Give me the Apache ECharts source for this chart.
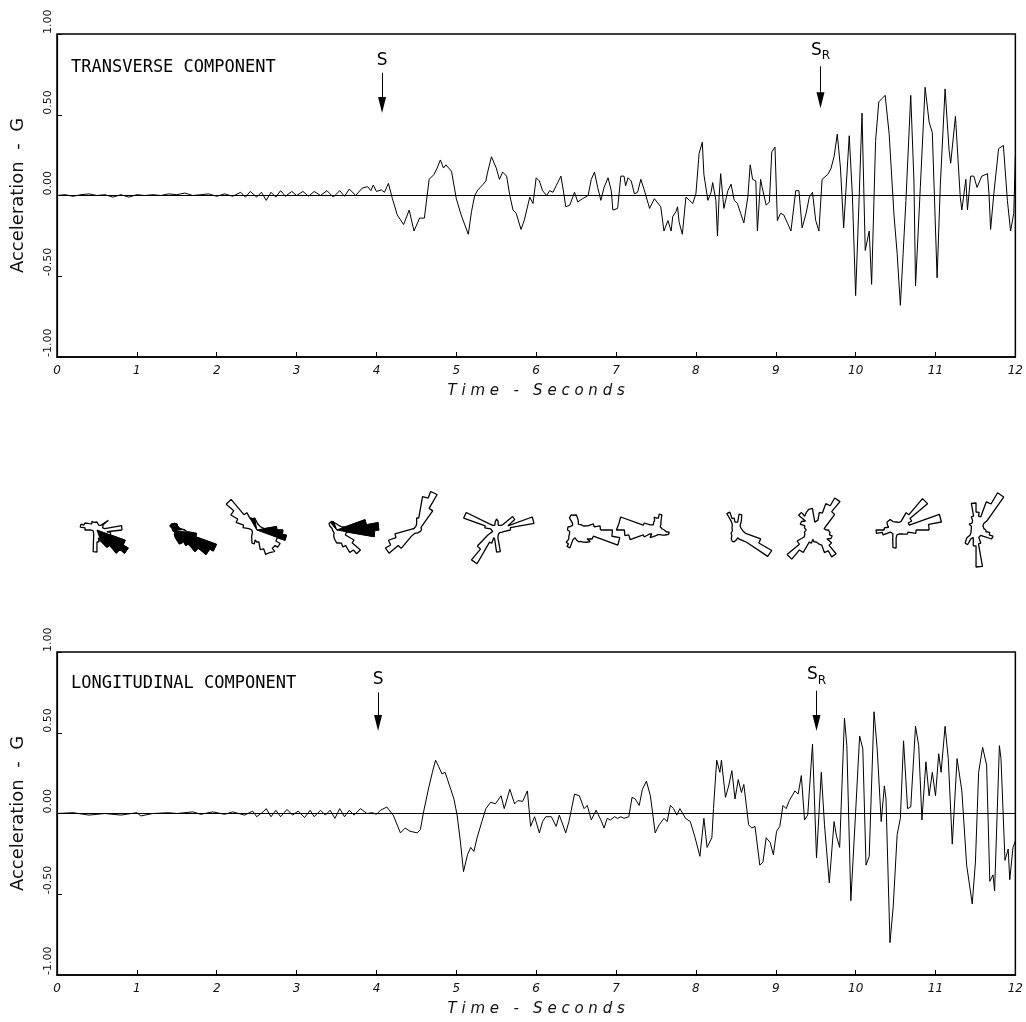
<!DOCTYPE html>
<html>
<head>
<meta charset="utf-8">
<title>Transverse / longitudinal acceleration</title>
<script src="https://cdn.jsdelivr.net/npm/echarts@6/dist/echarts.min.js"></script>
<style>
html, body { margin: 0; padding: 0; background: #fff; }
#main { width: 1026px; height: 1022px; }
</style>
</head>
<body>
<div id="main"></div>
<script>
//----------------------- data ------------------------------
var timeMin = 0, timeMax = 12, timeStep = 1;
var accelMin = -1, accelMax = 1, accelStep = 0.5;

// transverse component  [seconds, G]
var transverse = [
	[0,0],[0.1,0.005],[0.2,-0.005],[0.3,0.005],[0.4,0.01],[0.5,0],[0.6,0.005],[0.7,-0.01],[0.8,0.005],[0.9,-0.01],
	[1.0,0.005],[1.1,0],[1.2,0.005],[1.3,0],[1.4,0.01],[1.5,0.005],[1.6,0.015],[1.7,0],[1.8,0.005],[1.9,0.01],
	[2.0,-0.005],[2.1,0.01],[2.2,-0.005],[2.3,0.02],[2.36,-0.01],[2.42,0.025],[2.5,-0.01],[2.56,0.02],[2.62,-0.03],
	[2.68,0.02],[2.74,-0.01],[2.8,0.03],[2.86,-0.005],[2.94,0.025],[3.0,0],[3.08,0.025],[3.15,-0.005],[3.22,0.025],
	[3.3,0],[3.38,0.03],[3.46,-0.01],[3.54,0.03],[3.6,-0.005],[3.66,0.04],[3.74,0],[3.82,0.045],[3.89,0.055],
	[3.93,0.03],[3.96,0.065],[4.0,0.025],[4.06,0.035],[4.1,0.02],[4.15,0.075],[4.2,-0.02],[4.26,-0.12],[4.34,-0.18],
	[4.41,-0.09],[4.47,-0.22],[4.54,-0.14],[4.6,-0.14],[4.66,0.10],[4.72,0.13],[4.76,0.17],[4.8,0.22],[4.84,0.17],
	[4.87,0.19],[4.94,0.15],[5.0,-0.02],[5.06,-0.12],[5.15,-0.24],[5.19,-0.10],[5.23,0.0],[5.27,0.035],[5.33,0.066],
	[5.37,0.09],[5.39,0.14],[5.44,0.24],[5.5,0.17],[5.54,0.10],[5.58,0.145],[5.63,0.12],[5.67,0],[5.71,-0.09],
	[5.75,-0.11],[5.81,-0.21],[5.85,-0.155],[5.92,-0.01],[5.96,-0.05],[6.0,0.11],[6.04,0.09],[6.08,0.03],[6.13,0],
	[6.17,0.03],[6.21,0.02],[6.25,0.06],[6.31,0.12],[6.35,0],[6.37,-0.07],[6.42,-0.06],[6.48,0.02],[6.52,-0.04],
	[6.58,-0.02],[6.65,0],[6.69,0.10],[6.73,0.145],[6.77,0.05],[6.81,-0.03],[6.85,0.05],[6.9,0.11],[6.94,0.03],
	[6.96,-0.09],[7.02,-0.08],[7.06,0.12],[7.1,0.12],[7.12,0.06],[7.15,0.11],[7.19,0.09],[7.23,0.01],[7.27,0.02],
	[7.31,0.10],[7.35,0.04],[7.42,-0.08],[7.48,-0.02],[7.5,-0.01],[7.56,-0.07],[7.6,-0.22],[7.65,-0.155],[7.69,-0.22],
	[7.71,-0.13],[7.75,-0.10],[7.77,-0.07],[7.79,-0.165],[7.83,-0.24],[7.85,-0.25],[7.875,-0.01],[7.92,-0.03],
	[7.96,-0.05],[8.0,0.01],[8.04,0.26],[8.08,0.33],[8.1,0.13],[8.15,-0.03],[8.19,0.02],[8.21,0.08],[8.25,-0.03],
	[8.27,-0.25],[8.29,-0.01],[8.31,0.135],[8.35,-0.08],[8.4,0.03],[8.44,0.07],[8.48,-0.03],[8.52,-0.05],[8.56,-0.11],
	[8.6,-0.17],[8.65,-0.01],[8.68,0.19],[8.71,0.10],[8.75,0.09],[8.77,-0.22],[8.81,0.10],[8.83,0.05],[8.88,-0.06],
	[8.92,-0.04],[8.95,0.27],[8.99,0.30],[9.02,-0.155],[9.06,-0.11],[9.1,-0.12],[9.15,-0.175],[9.19,-0.22],[9.25,0.03],
	[9.29,0.03],[9.33,-0.2],[9.38,-0.11],[9.42,-0.01],[9.46,0.02],[9.5,-0.155],[9.54,-0.22],[9.58,0.10],[9.65,0.13],
	[9.69,0.165],[9.73,0.24],[9.77,0.38],[9.81,0.17],[9.85,-0.2],[9.92,0.37],[9.96,-0.01],[10.0,-0.62],[10.04,-0.07],
	[10.08,0.51],[10.12,-0.34],[10.17,-0.22],[10.2,-0.55],[10.25,0.34],[10.29,0.58],[10.33,0.60],[10.37,0.62],
	[10.42,0.38],[10.48,-0.12],[10.52,-0.36],[10.56,-0.68],[10.63,-0.03],[10.69,0.62],[10.73,0.09],[10.75,-0.56],
	[10.81,0.05],[10.87,0.67],[10.92,0.455],[10.96,0.39],[11.02,-0.51],[11.06,0.06],[11.12,0.66],[11.17,0.28],
	[11.19,0.2],[11.25,0.49],[11.31,-0.01],[11.33,-0.09],[11.38,0.10],[11.4,-0.09],[11.44,0.12],[11.48,0.12],
	[11.52,0.05],[11.58,0.12],[11.65,0.135],[11.67,0.01],[11.69,-0.21],[11.73,0.01],[11.79,0.29],[11.85,0.31],
	[11.9,-0.03],[11.94,-0.22],[11.98,-0.11],[12.0,0.24]
];

// longitudinal component  [seconds, G]
var longitudinal = [
	[0,0],[0.2,0.005],[0.4,-0.01],[0.6,0],[0.8,-0.01],[1.0,0.005],[1.05,-0.015],[1.2,0],[1.4,0.005],[1.5,0],
	[1.7,0.01],[1.8,-0.005],[1.95,0.01],[2.1,-0.005],[2.2,0.01],[2.35,-0.01],[2.45,0.015],[2.5,-0.02],[2.58,0.01],
	[2.62,0.03],[2.68,-0.02],[2.74,0.02],[2.8,-0.02],[2.88,0.025],[2.95,-0.01],[3.02,0.015],[3.1,-0.025],[3.17,0.02],
	[3.22,-0.02],[3.3,0.02],[3.36,-0.01],[3.42,0.02],[3.48,-0.03],[3.54,0.03],[3.6,-0.02],[3.66,0.02],[3.72,-0.01],
	[3.8,0.03],[3.88,0],[3.95,0.005],[4.0,-0.005],[4.05,0.02],[4.13,0.04],[4.21,-0.01],[4.3,-0.12],[4.36,-0.09],
	[4.42,-0.11],[4.51,-0.12],[4.55,-0.10],[4.59,0.01],[4.65,0.15],[4.7,0.255],[4.74,0.33],[4.78,0.29],[4.82,0.245],
	[4.86,0.255],[4.93,0.15],[4.97,0.09],[5.01,-0.01],[5.05,-0.17],[5.09,-0.36],[5.14,-0.255],[5.18,-0.21],
	[5.22,-0.235],[5.26,-0.15],[5.32,-0.05],[5.37,0.03],[5.43,0.07],[5.49,0.06],[5.56,0.11],[5.6,0.03],[5.67,0.15],
	[5.73,0.06],[5.77,0.08],[5.83,0.075],[5.89,0.14],[5.93,-0.08],[5.98,-0.02],[6.04,-0.12],[6.08,-0.05],[6.12,-0.02],
	[6.19,-0.02],[6.25,-0.08],[6.29,-0.01],[6.37,-0.12],[6.41,-0.05],[6.48,0.12],[6.54,0.11],[6.6,0.03],[6.64,0.05],
	[6.69,-0.04],[6.75,0.02],[6.81,-0.04],[6.85,-0.09],[6.89,-0.03],[6.93,-0.04],[6.98,-0.02],[7.02,-0.03],[7.06,-0.02],
	[7.1,-0.03],[7.16,-0.02],[7.2,0.10],[7.24,0.09],[7.29,0.05],[7.33,0.15],[7.38,0.20],[7.43,0.11],[7.49,-0.12],
	[7.54,-0.07],[7.6,-0.03],[7.64,-0.05],[7.68,0.05],[7.72,0.03],[7.76,-0.01],[7.8,0.03],[7.87,-0.03],[7.93,-0.05],
	[7.99,-0.15],[8.05,-0.265],[8.1,-0.03],[8.14,-0.21],[8.2,-0.15],[8.22,0.03],[8.26,0.33],[8.3,0.255],[8.32,0.33],
	[8.37,0.10],[8.41,0.17],[8.45,0.265],[8.49,0.09],[8.53,0.21],[8.57,0.13],[8.6,0.18],[8.66,-0.07],[8.7,-0.09],
	[8.74,-0.08],[8.8,-0.32],[8.84,-0.30],[8.88,-0.15],[8.93,-0.18],[8.97,-0.255],[9.01,-0.11],[9.05,-0.08],[9.09,0.05],
	[9.13,0.03],[9.17,0.08],[9.24,0.14],[9.28,0.12],[9.32,0.235],[9.36,-0.04],[9.4,-0.01],[9.46,0.43],[9.51,-0.275],
	[9.57,0.255],[9.61,-0.07],[9.67,-0.43],[9.73,-0.05],[9.76,-0.14],[9.8,-0.21],[9.86,0.59],[9.89,0.42],[9.94,-0.54],
	[10.0,0.01],[10.05,0.48],[10.09,0.40],[10.13,-0.32],[10.17,-0.265],[10.23,0.63],[10.27,0.40],[10.32,-0.05],
	[10.36,0.17],[10.38,0.09],[10.43,-0.80],[10.47,-0.58],[10.52,-0.13],[10.56,-0.03],[10.6,0.45],[10.65,0.03],
	[10.69,0.04],[10.75,0.54],[10.79,0.42],[10.83,-0.04],[10.88,0.32],[10.92,0.11],[10.96,0.255],[11.0,0.11],
	[11.04,0.37],[11.07,0.255],[11.12,0.54],[11.16,0.34],[11.21,-0.19],[11.27,0.34],[11.33,0.14],[11.39,-0.32],
	[11.46,-0.56],[11.5,-0.30],[11.54,0.255],[11.59,0.41],[11.64,0.30],[11.68,-0.42],[11.72,-0.38],[11.74,-0.48],
	[11.8,0.42],[11.82,0.34],[11.87,-0.29],[11.91,-0.22],[11.93,-0.41],[11.97,-0.21],[12.0,-0.17]
];

// arrival arrows: [time, from G, to G]
var transverseArrows = [[4.07, 0.76, 0.56], [9.56, 0.80, 0.59]];
var longitudinalArrows = [[4.02, 0.75, 0.56], [9.51, 0.76, 0.56]];
var arrowLabels = ['{s|S}', '{s|S}{r|R}'];

// rose diagrams, one per second, 36 sectors of 10 deg (counter-clockwise from east), length in px
var roses = [
	[25,8,6,8,15,6,5,5,6,8,8,10,8,8,10,14,17,12,6,4,3,3,4,5,6,10,22,12,8,12,20,30,36,30,14,10],
	[8,5,4,4,3,3,4,4,5,6,7,8,8,9,8,6,5,4,4,3,3,3,3,4,5,6,8,10,14,12,18,28,38,42,20,10],
	[20,8,6,5,5,5,6,6,8,10,12,14,20,40,30,22,14,8,5,4,4,5,5,8,10,14,10,12,20,26,28,24,27,22,30,26],
	[42,30,10,6,5,5,5,5,6,7,8,9,10,10,8,6,5,4,4,3,3,4,4,5,6,8,10,13,14,18,26,31,20,10,10,38],
	[5,4,4,5,8,25,41,34,12,6,4,3,3,3,3,3,4,5,6,22,30,36,24,8,4,3,3,3,3,3,3,3,3,3,4,4],
	[14,38,12,21,8,6,5,6,9,11,8,5,5,6,10,35,12,6,4,4,5,10,25,39,14,8,10,22,8,5,4,4,4,5,6,8],
	[24,18,12,8,7,6,6,7,10,15,16,14,8,6,7,8,9,9,8,7,8,10,12,16,19,10,8,10,12,14,16,18,14,18,44,36],
	[8,6,5,5,6,7,9,16,12,13,10,8,6,6,8,14,38,40,32,28,14,8,6,10,8,6,5,5,5,6,6,7,8,10,13,10],
	[6,5,5,5,5,6,10,16,8,8,12,19,10,6,5,4,4,4,4,4,5,6,7,8,10,12,10,8,8,10,12,16,41,26,10,7],
	[10,8,10,14,24,37,28,18,10,8,22,20,18,23,14,17,12,10,10,12,14,22,38,26,14,10,12,14,16,24,31,20,14,17,14,12],
	[33,46,14,18,41,20,10,8,8,8,9,10,12,12,10,8,7,12,20,14,6,5,5,5,6,10,18,8,5,5,5,5,6,8,12,20],
	[10,8,8,10,14,43,30,14,18,27,14,10,8,9,6,5,5,5,5,5,6,8,12,17,10,8,16,37,14,8,7,8,10,18,14,10]
];
// sectors drawn solid black
var roseFilled = [
	[29,30,31,32,33],
	[0,1,2,3,4,5,6,7,8,9,10,11,12,13,14,15,16,17,18,19,20,21,22,23,24,25,26,27,28,29,30,31,32,33,34,35],
	[34,35,0,10,11],
	[35,0,1,11,12,13],
	[], [], [], [], [], [], [], []
];

//----------------------- chart ------------------------------
var gridLeft = 57, gridRight = 10, roseY = 530, roseR = 50, sectorDeg = 10;
var plotW = 1026 - gridLeft - gridRight;

// outline of a rose: each sector becomes two points [radius, angle]
function roseOutline(r, keep) {
	var pts = [];
	r.forEach(function(v, j) {
		var len = keep && keep.indexOf(j) < 0 ? 0 : v;
		pts.push([len, j * sectorDeg], [len, (j + 1) * sectorDeg]);
	});
	pts.push([keep && keep.indexOf(0) < 0 ? 0 : r[0], 360]);
	return pts;
}

function arrowMarks(list) {
	var out = [{
		yAxis: 0,
		label: { show: false },
		lineStyle: { color: '#000', width: 1, type: 'solid' }
	}];
	list.forEach(function(a, k) {
		out.push([{
			coord: [a[0], a[1]],
			symbol: 'none',
			label: {
				show: true,
				position: 'start',
				distance: 4,
				formatter: arrowLabels[k],
				rich: {
					s: { fontSize: 17, color: '#000', fontFamily: 'DejaVu Sans' },
					r: { fontSize: 12, color: '#000', fontFamily: 'DejaVu Sans', padding: [12, 0, 0, 0] }
				}
			},
			lineStyle: { color: '#000', width: 1, type: 'solid' }
		}, {
			coord: [a[0], a[2]],
			symbol: 'triangle',
			symbolSize: [8, 16]
		}]);
	});
	return out;
}

function xAxisOf(idx) {
	return {
		type: 'value', gridIndex: idx, min: timeMin, max: timeMax, interval: timeStep,
		name: 'T i m e   -   S e c o n d s', nameLocation: 'middle', nameGap: 27,
		nameTextStyle: { fontSize: 15, fontStyle: 'italic', color: '#111' },
		axisLine: { onZero: false, lineStyle: { color: '#000', width: 1.5 } },
		axisTick: { inside: true, length: 5, lineStyle: { color: '#000' } },
		axisLabel: { fontSize: 12, color: '#111', margin: 8, fontStyle: 'italic' },
		splitLine: { show: false }
	};
}

function yAxisOf(idx) {
	return {
		type: 'value', gridIndex: idx, min: accelMin, max: accelMax, interval: accelStep,
		name: 'Acceleration  -  G', nameLocation: 'middle', nameGap: 30, nameRotate: 90,
		nameTextStyle: { fontSize: 18, color: '#111' },
		axisLine: { onZero: false, lineStyle: { color: '#000', width: 1.2 } },
		axisTick: { inside: true, length: 5, lineStyle: { color: '#000' } },
		axisLabel: {
			rotate: 90, align: 'left', verticalAlign: 'bottom', margin: 3,
			fontSize: 11, color: '#111',
			formatter: function(v) { return v.toFixed(2); }
		},
		splitLine: { show: false }
	};
}

var series = [{
	type: 'line', xAxisIndex: 0, yAxisIndex: 0, data: transverse,
	symbol: 'none', lineStyle: { color: '#000', width: 1 },
	markLine: { silent: true, animation: false, symbol: ['none', 'none'], data: arrowMarks(transverseArrows) }
}, {
	type: 'line', xAxisIndex: 1, yAxisIndex: 1, data: longitudinal,
	symbol: 'none', lineStyle: { color: '#000', width: 1 },
	markLine: { silent: true, animation: false, symbol: ['none', 'none'], data: arrowMarks(longitudinalArrows) }
}];

var polar = [], angleAxis = [], radiusAxis = [];
roses.forEach(function(r, k) {
	polar.push({ center: [gridLeft + (k + 0.5) * plotW / 12, roseY], radius: [0, roseR] });
	angleAxis.push({ polarIndex: k, type: 'value', min: 0, max: 360, startAngle: 0, clockwise: false, show: false });
	radiusAxis.push({ polarIndex: k, min: 0, max: roseR, show: false });
	series.push({
		type: 'line', coordinateSystem: 'polar', polarIndex: k, data: roseOutline(r), silent: true,
		symbol: 'none', lineStyle: { color: '#000', width: 1.3 }
	});
	if (roseFilled[k].length) {
		series.push({
			type: 'line', coordinateSystem: 'polar', polarIndex: k, data: roseOutline(r, roseFilled[k]), silent: true,
			symbol: 'none', lineStyle: { color: '#000', width: 1 },
			areaStyle: { color: '#000', opacity: 1 }
		});
	}
});

var dom = document.getElementById('main');
var myChart = echarts.init(dom);
var option = {
	backgroundColor: '#fff',
	animation: false,
	textStyle: { fontFamily: 'DejaVu Sans' },
	title: [{
		text: 'TRANSVERSE COMPONENT', left: 66, top: 54,
		textStyle: { fontFamily: 'DejaVu Sans Mono', fontSize: 17, fontWeight: 'normal', color: '#000' }
	}, {
		text: 'LONGITUDINAL COMPONENT', left: 66, top: 670,
		textStyle: { fontFamily: 'DejaVu Sans Mono', fontSize: 17, fontWeight: 'normal', color: '#000' }
	}],
	grid: [
		{ left: gridLeft, right: gridRight, top: 34, height: 323, show: true, borderColor: '#000', borderWidth: 1.5 },
		{ left: gridLeft, right: gridRight, top: 652, height: 323, show: true, borderColor: '#000', borderWidth: 1.5 }
	],
	xAxis: [xAxisOf(0), xAxisOf(1)],
	yAxis: [yAxisOf(0), yAxisOf(1)],
	polar: polar,
	angleAxis: angleAxis,
	radiusAxis: radiusAxis,
	series: series
};
if (option && typeof option === "object") {
	myChart.setOption(option, true);
}
</script>
</body>
</html>
